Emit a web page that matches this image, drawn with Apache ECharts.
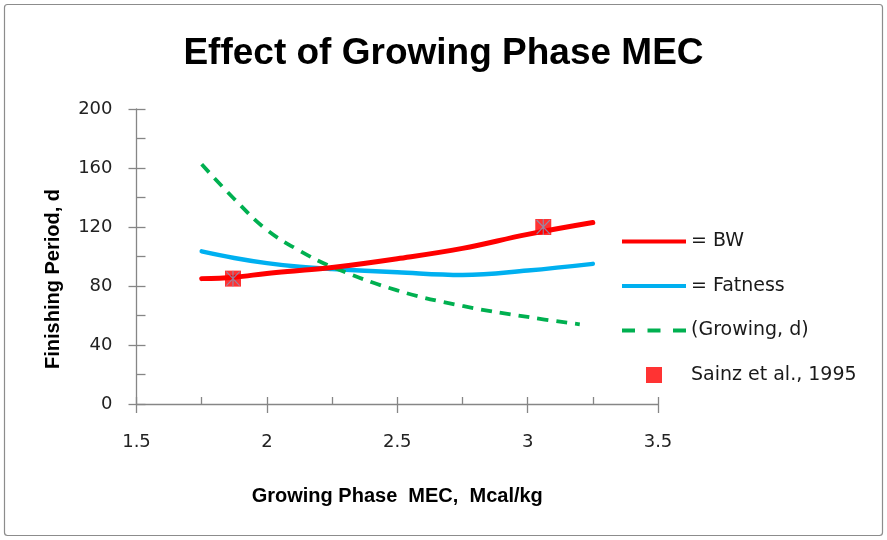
<!DOCTYPE html>
<html>
<head>
<meta charset="utf-8">
<script src="https://cdn.jsdelivr.net/npm/echarts@6/dist/echarts.min.js"></script>
<style>
html,body{margin:0;padding:0;background:#fff;}
#chart{width:887px;height:540px;}
</style>
</head>
<body>
<div id="chart"></div>
<script>
const titleText = 'Effect of Growing Phase MEC';
const xAxisName = 'Growing Phase  MEC,  Mcal/kg';
const yAxisName = 'Finishing Period, d';

const xValues = [1.75, 1.875, 2.0, 2.125, 2.25, 2.5, 2.75, 3.0, 3.25];
const bwValues = [85, 86, 88.5, 90.5, 92.5, 98.5, 105.5, 115, 123];
const fatValues = [103.5, 99, 95.5, 93, 91.5, 89.3, 87.5, 90.5, 95];

const growX = [1.75, 1.875, 2.0, 2.125, 2.25, 2.5, 2.75, 3.0, 3.2];
const growValues = [162.5, 139, 118, 104, 93, 77, 66.5, 59, 54];

const sainzX = [1.87, 3.06];
const sainzY = [85, 120];

const xTicks = {min: 1.5, max: 3.5, interval: 0.5};
const yTicks = {min: 0, max: 200, interval: 40};

const FONT = 'DejaVu Sans';
const BOLD_FONT = 'Liberation Sans';
const pair = (xs, ys) => xs.map((x, i) => [x, ys[i]]);

const starPath = 'path://M7.4 0 L8.6 0 L8.6 16 L7.4 16 Z M0.6 1.4 L1.4 0.6 L15.4 14.6 L14.6 15.4 Z M14.6 0.6 L15.4 1.4 L1.4 15.4 L0.6 14.6 Z';
const solidIcon = 'path://M0 0 H64 V4 H0 Z';
const dashIcon = 'path://M0 0 H13 V4 H0 Z M25.5 0 H38.5 V4 H25.5 Z M51 0 H64 V4 H51 Z';
const squareIcon = 'path://M0 0 H16 V16 H0 Z';

const grid = {left: 136.5, right: 229, top: 109, bottom: 136};

const chart = echarts.init(document.getElementById('chart'), null, {renderer: 'canvas'});
const axisLineStyle = {color: '#868686', width: 1.3};

chart.setOption({
  animation: false,
  backgroundColor: '#fff',
  title: {
    text: titleText, left: 'center', top: 30,
    textStyle: {fontFamily: BOLD_FONT, fontWeight: 'bold', fontSize: 37, color: '#000'}
  },
  graphic: [
    {type: 'rect', shape: {x: 4.5, y: 4.5, width: 878, height: 531, r: 3},
     style: {fill: 'none', stroke: '#8c8c8c', lineWidth: 1.2}, z: -1},
    {type: 'text', x: 53, y: 279, rotation: Math.PI / 2,
     style: {text: yAxisName, fontFamily: BOLD_FONT, fontWeight: 'bold', fontSize: 20,
             fill: '#000', align: 'center', verticalAlign: 'middle'}}
  ],
  legend: {
    orient: 'vertical', left: 622, top: 232, padding: 0,
    itemWidth: 64, itemHeight: 16, itemGap: 25.5,
    textStyle: {fontFamily: FONT, fontSize: 19, color: '#1a1a1a'},
    data: [
      {name: '= BW', icon: solidIcon},
      {name: '= Fatness', icon: solidIcon},
      {name: '(Growing, d)', icon: dashIcon},
      {name: 'Sainz et al., 1995', icon: squareIcon}
    ]
  },
  grid: grid,
  xAxis: [
    {type: 'value', min: xTicks.min, max: xTicks.max, interval: xTicks.interval,
     position: 'bottom',
     axisLine: {show: true, onZero: false, lineStyle: axisLineStyle},
     axisTick: {show: true, inside: false, length: 9, lineStyle: axisLineStyle},
     axisLabel: {fontFamily: FONT, fontSize: 18, color: '#222', margin: 29},
     splitLine: {show: false},
     name: xAxisName, nameLocation: 'middle', nameGap: 82,
     nameTextStyle: {fontFamily: BOLD_FONT, fontWeight: 'bold', fontSize: 20, color: '#000'}},
    {type: 'value', min: xTicks.min, max: xTicks.max, interval: xTicks.interval,
     position: 'bottom', offset: 0,
     axisLine: {show: false},
     axisTick: {show: true, inside: true, length: 7, lineStyle: axisLineStyle},
     minorTick: {show: true, splitNumber: 2, length: 7, lineStyle: axisLineStyle},
     axisLabel: {show: false}, splitLine: {show: false}}
  ],
  yAxis: [
    {type: 'value', min: yTicks.min, max: yTicks.max, interval: yTicks.interval,
     position: 'left',
     axisLine: {show: true, onZero: false, lineStyle: axisLineStyle},
     axisTick: {show: true, inside: false, length: 8, lineStyle: axisLineStyle},
     axisLabel: {fontFamily: FONT, fontSize: 18, color: '#222', margin: 24},
     splitLine: {show: false}},
    {type: 'value', min: yTicks.min, max: yTicks.max, interval: yTicks.interval,
     position: 'left', offset: 0,
     axisLine: {show: false},
     axisTick: {show: true, inside: true, length: 9, lineStyle: axisLineStyle},
     minorTick: {show: true, splitNumber: 2, length: 9, lineStyle: axisLineStyle},
     axisLabel: {show: false}, splitLine: {show: false}}
  ],
  series: [
    {name: '= BW', type: 'line', smooth: 0.4, showSymbol: false, symbol: 'none',
     data: pair(xValues, bwValues), color: '#ff0000',
     lineStyle: {color: '#ff0000', width: 5, cap: 'round'}, z: 3},
    {name: '= Fatness', type: 'line', smooth: 0.4, showSymbol: false, symbol: 'none',
     data: pair(xValues, fatValues), color: '#00b0f0',
     lineStyle: {color: '#00b0f0', width: 4.5, cap: 'round'}, z: 2},
    {name: '(Growing, d)', type: 'line', smooth: 0.4, showSymbol: false, symbol: 'none',
     data: pair(growX, growValues), color: '#00b050',
     lineStyle: {color: '#00b050', width: 3.8, type: [11, 8]}, z: 2},
    {name: 'Sainz et al., 1995', type: 'scatter', symbol: 'rect', symbolSize: 16,
     data: pair(sainzX, sainzY), color: '#ff0000',
     itemStyle: {color: '#ff0000'}, z: 5},
    {name: 'Sainz star', type: 'scatter', symbol: starPath, symbolSize: [14, 16],
     data: pair(sainzX, sainzY), color: '#7c9cc0',
     itemStyle: {color: '#7c9cc0'}, z: 6, silent: true}
  ]
});
</script>
</body>
</html>
